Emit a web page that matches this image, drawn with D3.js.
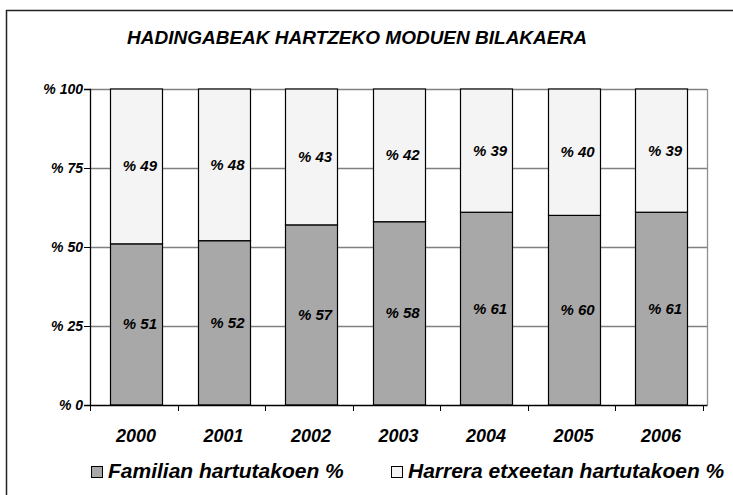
<!DOCTYPE html>
<html>
<head>
<meta charset="utf-8">
<script src="https://cdn.jsdelivr.net/npm/d3@7"></script>
<style>
  body { margin: 0; background: #fff; }
  svg { display: block; }
  svg text { font-family: "Liberation Sans", Arial, sans-serif; font-weight: bold; font-style: italic; fill: #000; }
</style>
</head>
<body>
<svg id="chart" width="733" height="495"></svg>
<script>
var years = ["2000", "2001", "2002", "2003", "2004", "2005", "2006"];
var familian = [51, 52, 57, 58, 61, 60, 61];
var harrera = [49, 48, 43, 42, 39, 40, 39];
var yTicks = [0, 25, 50, 75, 100];
var seriesNames = ["Familian hartutakoen %", "Harrera etxeetan hartutakoen %"];
var seriesColors = ["#a8a8a8", "#f4f4f4"];

var svg = d3.select("#chart");
var margin = {left: 90, top: 89, right: 26, bottom: 90};
var W = 733, H = 495;

// outer frame
svg.append("rect")
  .attr("x", 6.5).attr("y", 10.5)
  .attr("width", 740).attr("height", 500)
  .attr("fill", "#fff").attr("stroke", "#222").attr("stroke-width", 1.5);

svg.append("text")
  .attr("x", 357).attr("y", 44)
  .attr("text-anchor", "middle")
  .attr("font-size", 19)
  .text("HADINGABEAK HARTZEKO MODUEN BILAKAERA");

var x = d3.scaleBand().domain(years)
  .range([margin.left, W - margin.right])
  .paddingInner(0.41).paddingOuter(0.23);
var y = d3.scaleLinear().domain([0, 100]).range([H - margin.bottom, margin.top]);

// gridlines + plot frame (grey)
svg.append("g").selectAll("line").data(yTicks.slice(1)).enter().append("line")
  .attr("x1", margin.left).attr("x2", W - margin.right)
  .attr("y1", function(d) { return Math.round(y(d)) + 0.5; })
  .attr("y2", function(d) { return Math.round(y(d)) + 0.5; })
  .attr("stroke", "#808080").attr("stroke-width", 1.3);
svg.append("line")
  .attr("x1", W - margin.right + 0.5).attr("x2", W - margin.right + 0.5)
  .attr("y1", y(100)).attr("y2", y(0))
  .attr("stroke", "#909090").attr("stroke-width", 1.3);

// stacked bars
var stackData = years.map(function(yr, i) {
  return {year: yr, parts: [[0, familian[i], familian[i]], [familian[i], 100, harrera[i]]]};
});
var barG = svg.append("g").selectAll("g").data(stackData).enter().append("g");
barG.selectAll("rect").data(function(d) { return d.parts.map(function(p, k) { return {year: d.year, p: p, k: k}; }); })
  .enter().append("rect")
  .attr("x", function(d) { return Math.round(x(d.year)) + 0.5; })
  .attr("width", Math.round(x.bandwidth()))
  .attr("y", function(d) { return y(d.p[1]); })
  .attr("height", function(d) { return y(d.p[0]) - y(d.p[1]); })
  .attr("fill", function(d) { return seriesColors[d.k]; })
  .attr("stroke", "#000").attr("stroke-width", 1.2);
barG.selectAll("text").data(function(d) { return d.parts.map(function(p) { return {year: d.year, p: p}; }); })
  .enter().append("text")
  .attr("x", function(d) { return x(d.year) + x.bandwidth() / 2 + 4; })
  .attr("y", function(d) { return y((d.p[0] + d.p[1]) / 2) + 5; })
  .attr("text-anchor", "middle")
  .attr("font-size", 15)
  .text(function(d) { return "% " + d.p[2]; });

// axes
var yAxis = svg.append("g").attr("transform", "translate(" + margin.left + ",0)")
  .call(d3.axisLeft(y).tickValues(yTicks).tickSize(6).tickPadding(1).tickFormat(function(d) { return "% " + d; }));
var xAxis = svg.append("g").attr("transform", "translate(0," + y(0) + ")")
  .call(d3.axisBottom(x).tickSize(0).tickFormat(""));
[yAxis, xAxis].forEach(function(a) {
  a.select(".domain").attr("stroke", "#000").attr("stroke-width", 1.3);
  a.selectAll(".tick line").attr("stroke", "#000");
});
yAxis.selectAll("text").attr("font-size", 14).attr("font-family", null).attr("dy", "0.33em");

// x ticks between categories
var step = x.step();
svg.append("g").selectAll("line").data(d3.range(years.length + 1)).enter().append("line")
  .attr("x1", function(i) { return Math.round(margin.left + i * step) + 0.5; })
  .attr("x2", function(i) { return Math.round(margin.left + i * step) + 0.5; })
  .attr("y1", y(0)).attr("y2", y(0) + 6)
  .attr("stroke", "#000");
svg.append("g").selectAll("text").data(years).enter().append("text")
  .attr("x", function(d) { return x(d) + x.bandwidth() / 2; })
  .attr("y", 442)
  .attr("text-anchor", "middle")
  .attr("font-size", 18)
  .text(function(d) { return d; });

// legend
var legendX = [91, 391];
var leg = svg.append("g").selectAll("g").data(seriesNames).enter().append("g")
  .attr("transform", function(d, i) { return "translate(" + legendX[i] + ",466)"; });
leg.append("rect").attr("width", 11).attr("height", 11).attr("y", 0.5).attr("x", 0.5)
  .attr("fill", function(d, i) { return seriesColors[i]; })
  .attr("stroke", "#000");
leg.append("text").attr("x", 17).attr("y", 12).attr("font-size", 21)
  .text(function(d) { return d; });
</script>
</body>
</html>
